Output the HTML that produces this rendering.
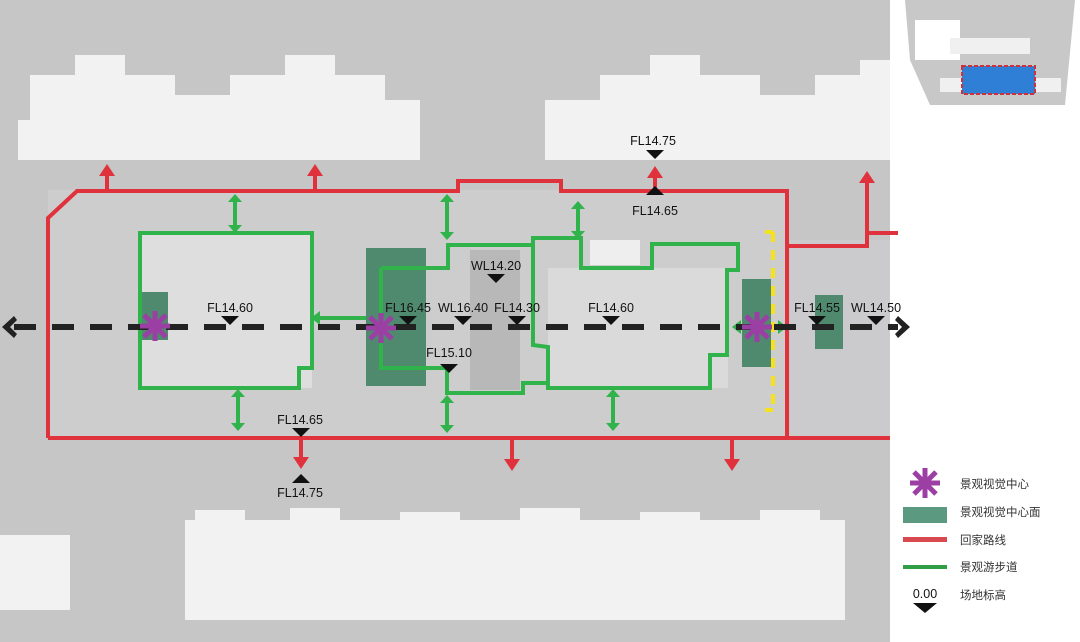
<!DOCTYPE html>
<html><head><meta charset="utf-8"><style>
body{margin:0;background:#fff}
svg{display:block}
text{font-family:"Liberation Sans","Noto Sans CJK SC",sans-serif}
</style></head><body>
<svg width="1080" height="642" viewBox="0 0 1080 642" xmlns="http://www.w3.org/2000/svg">
<defs>
<g id="star" stroke="#9b3fa5" stroke-width="5" stroke-linecap="butt">
<line x1="-15" y1="0" x2="15" y2="0"/><line x1="0" y1="-15" x2="0" y2="15"/>
<line x1="-11" y1="-11" x2="11" y2="11"/><line x1="-11" y1="11" x2="11" y2="-11"/>
</g>
<path id="td" d="M-9,0 L9,0 L0,9 Z" fill="#111"/>
<path id="tu" d="M-9,0 L9,0 L0,-9 Z" fill="#111"/>
</defs>
<!-- photo background -->
<rect x="0" y="0" width="890" height="642" fill="#c6c6c6"/>
<rect x="48" y="190" width="740" height="248" fill="#cdcdcd"/>
<rect x="790" y="240" width="100" height="198" fill="#cbcbce"/>
<!-- buildings -->
<g fill="#f2f2f2">
<path d="M18,120 L30,120 30,75 75,75 75,55 125,55 125,75 175,75 175,95 230,95 230,75 285,75 285,55 335,55 335,75 385,75 385,100 420,100 420,160 18,160 Z"/>
<path d="M545,100 L600,100 600,75 650,75 650,55 700,55 700,75 760,75 760,95 815,95 815,75 860,75 860,60 890,60 890,160 545,160 Z"/>
<rect x="185" y="520" width="660" height="100"/>
<rect x="195" y="510" width="50" height="12"/><rect x="290" y="508" width="50" height="14"/><rect x="400" y="512" width="60" height="10"/><rect x="520" y="508" width="60" height="14"/><rect x="640" y="512" width="60" height="10"/><rect x="760" y="510" width="60" height="12"/>
<rect x="0" y="535" width="70" height="75"/>
</g>
<rect x="140" y="233" width="172" height="155" fill="#dedede"/>
<rect x="548" y="268" width="180" height="120" fill="#dadada"/>
<rect x="470" y="250" width="50" height="140" fill="#b8b8b8"/>
<rect x="590" y="240" width="50" height="25" fill="#eee"/>
<!-- dark green areas -->
<g fill="#4f8a6f">
<rect x="140" y="292" width="28" height="48"/>
<rect x="366" y="248" width="60" height="138"/>
<rect x="742" y="279" width="29" height="88"/>
<rect x="815" y="295" width="28" height="54"/>
</g>
<!-- red route -->
<g stroke="#e0323c" stroke-width="4" fill="none">
<path d="M48,438 V218 L77,191 H458 V181 H561 V191 H787 V438"/>
<path d="M48,438 H890"/>
<path d="M787,246 H867 V178"/>
<path d="M867,233 H898"/>
<path d="M107,191 V172"/><path d="M315,191 V172"/><path d="M655,191 V174"/>
<path d="M301,438 V460"/><path d="M512,438 V462"/><path d="M732,438 V462"/>
</g>
<g fill="#e0323c">
<path d="M99,176 L115,176 107,164 Z"/><path d="M307,176 L323,176 315,164 Z"/><path d="M647,178 L663,178 655,166 Z"/><path d="M859,183 L875,183 867,171 Z"/>
<path d="M293,457 L309,457 301,469 Z"/><path d="M504,459 L520,459 512,471 Z"/><path d="M724,459 L740,459 732,471 Z"/>
</g>
<!-- green paths -->
<g stroke="#2fb34a" stroke-width="4" fill="none">
<path d="M140,233 H312 V368 H299 V388 H140 Z"/>
<path d="M381,268 V368 H447 V393 H523 V383 H548 V388 H710 V355 H727 V270 H738 V244 H652 V268 H581 V238 H533 V345 L548,347 V388"/>
<path d="M381,268 H448 V245 H533"/>
<path d="M313,318 H366"/>
<path d="M235,197 V230"/><path d="M447,197 V238"/><path d="M578,204 V236"/>
<path d="M238,392 V428"/><path d="M447,398 V430"/><path d="M613,392 V428"/>
<path d="M736,327 H783"/>
</g>
<g fill="#2fb34a">
<path d="M228,202 L242,202 235,194 Z"/><path d="M228,225 L242,225 235,233 Z"/>
<path d="M440,202 L454,202 447,194 Z"/><path d="M440,232 L454,232 447,240 Z"/>
<path d="M571,209 L585,209 578,201 Z"/><path d="M571,231 L585,231 578,239 Z"/>
<path d="M231,397 L245,397 238,389 Z"/><path d="M231,423 L245,423 238,431 Z"/>
<path d="M440,403 L454,403 447,395 Z"/><path d="M440,425 L454,425 447,433 Z"/>
<path d="M606,397 L620,397 613,389 Z"/><path d="M606,423 L620,423 613,431 Z"/>
<path d="M320,311 L320,325 311,318 Z"/>
<path d="M741,320 L741,334 732,327 Z"/><path d="M778,320 L778,334 787,327 Z"/>
</g>
<!-- yellow dashed -->
<path d="M773,232 V410" stroke="#f5e21a" stroke-width="4" stroke-dasharray="10,8" fill="none"/>
<path d="M765,232 H773 M765,410 H773" stroke="#f5e21a" stroke-width="4"/>
<!-- black dashed axis -->
<path d="M14,327 H898" stroke="#222" stroke-width="6" stroke-dasharray="22,16" fill="none"/>
<path d="M2,327 L14,316 17,320 10,327 17,334 14,338 Z" fill="#222"/>
<path d="M910,327 L898,316 895,320 902,327 895,334 898,338 Z" fill="#222"/>
<!-- stars -->
<use href="#star" x="155" y="326"/><use href="#star" x="381" y="328"/><use href="#star" x="757" y="327"/>
<!-- markers -->
<g font-size="12.5" fill="#111" text-anchor="middle">
<text x="230" y="312">FL14.60</text><use href="#td" x="230" y="316"/>
<text x="408" y="312">FL16.45</text><use href="#td" x="408" y="316"/>
<text x="463" y="312">WL16.40</text><use href="#td" x="463" y="316"/>
<text x="517" y="312">FL14.30</text><use href="#td" x="517" y="316"/>
<text x="496" y="270">WL14.20</text><use href="#td" x="496" y="274"/>
<text x="611" y="312">FL14.60</text><use href="#td" x="611" y="316"/>
<text x="449" y="357">FL15.10</text><use href="#td" x="449" y="364"/>
<text x="817" y="312">FL14.55</text><use href="#td" x="817" y="316"/>
<text x="876" y="312">WL14.50</text><use href="#td" x="876" y="316"/>
<text x="653" y="145">FL14.75</text><use href="#td" x="655" y="150"/>
<use href="#tu" x="655" y="195"/><text x="655" y="215">FL14.65</text>
<text x="300" y="424">FL14.65</text><use href="#td" x="301" y="428"/>
<use href="#tu" x="301" y="483"/><text x="300" y="497">FL14.75</text>
</g>
<!-- inset map -->
<rect x="903" y="0" width="177" height="120" fill="#fff"/>
<path d="M905,0 H1075 L1065,105 H930 L910,60 Z" fill="#c8c8c8"/>
<rect x="915" y="20" width="45" height="40" fill="#fff"/>
<rect x="950" y="38" width="80" height="16" fill="#f0f0f0"/>
<rect x="940" y="78" width="25" height="14" fill="#f0f0f0"/><rect x="1036" y="78" width="25" height="14" fill="#f0f0f0"/>
<rect x="962" y="66" width="73" height="28" fill="#2f7fd6" stroke="#d0303a" stroke-width="2" stroke-dasharray="4,2"/>
<!-- legend -->
<use href="#star" x="925" y="483"/>
<rect x="903" y="507" width="44" height="16" fill="#5b9a80"/>
<rect x="903" y="537" width="44" height="5" fill="#d94a50"/>
<rect x="903" y="565" width="44" height="4" fill="#2f9e46"/>
<text x="925" y="598" font-size="12.5" text-anchor="middle" fill="#111">0.00</text>
<path d="M913,603 L937,603 925,613 Z" fill="#111"/>
<g font-size="11.5" fill="#333">
<text x="960" y="488">景观视觉中心</text>
<text x="960" y="516">景观视觉中心面</text>
<text x="960" y="544">回家路线</text>
<text x="960" y="571">景观游步道</text>
<text x="960" y="599">场地标高</text>
</g>
</svg>
</body></html>
